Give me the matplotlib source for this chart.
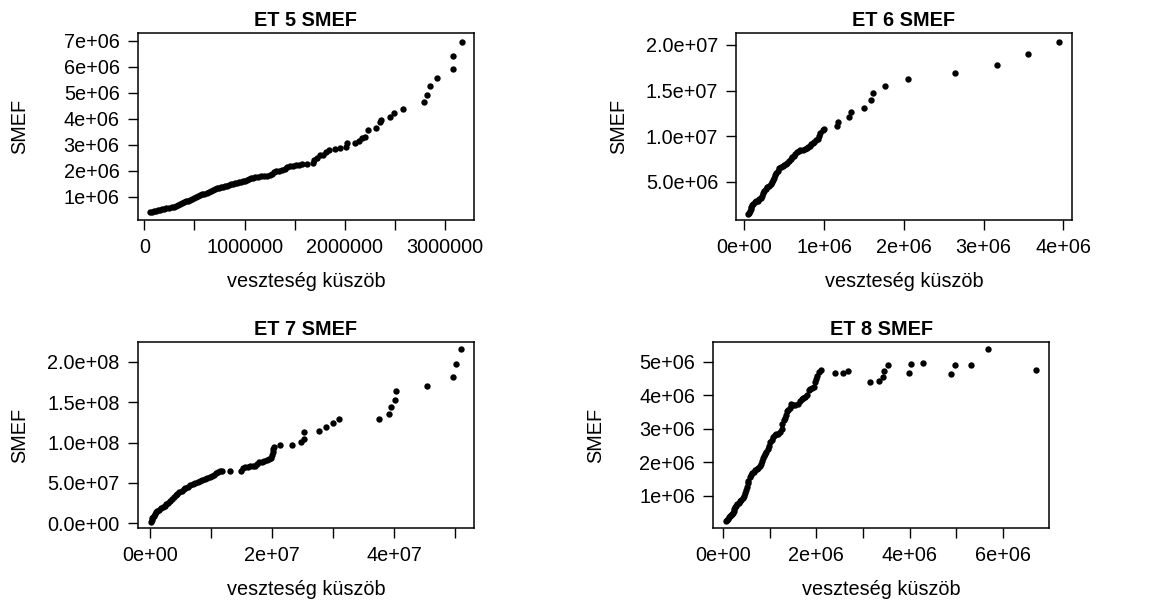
import numpy as np
import matplotlib
matplotlib.use("Agg")
import matplotlib.pyplot as plt

plt.rcParams['font.family'] = ['Liberation Sans', 'DejaVu Sans']

# ---- ET 5 (threshold and SMEF in millions) ----
et5_kuszob_m = [0.06, 0.08, 0.10, 0.12, 0.14, 0.16, 0.18, 0.20, 0.22, 0.25, 0.28, 0.30,
                0.32, 0.34, 0.36, 0.38, 0.40, 0.42, 0.44, 0.46, 0.48, 0.50, 0.52, 0.54,
                0.56, 0.58, 0.60, 0.62, 0.64, 0.66, 0.68, 0.70, 0.72, 0.74, 0.76, 0.78,
                0.80, 0.82, 0.84, 0.86, 0.88, 0.90, 0.92, 0.94, 0.96, 0.98, 1.00, 1.02,
                1.04, 1.06, 1.08, 1.10, 1.13, 1.16, 1.19, 1.22, 1.25, 1.27, 1.29, 1.31,
                1.34, 1.37, 1.40, 1.42, 1.45, 1.48, 1.51, 1.54, 1.57, 1.62, 1.68, 1.69,
                1.72, 1.75, 1.78, 1.81, 1.84, 1.90, 1.95, 2.01, 2.02, 2.10, 2.14, 2.17,
                2.20, 2.23, 2.31, 2.35, 2.36, 2.45, 2.49, 2.58, 2.79, 2.82, 2.85, 2.92,
                3.08, 3.08, 3.17]
et5_smef_m = [0.41, 0.43, 0.45, 0.47, 0.49, 0.51, 0.53, 0.55, 0.57, 0.58, 0.60, 0.62,
              0.65, 0.69, 0.73, 0.77, 0.80, 0.83, 0.86, 0.89, 0.93, 0.97, 1.01, 1.04,
              1.07, 1.10, 1.13, 1.16, 1.19, 1.22, 1.25, 1.29, 1.33, 1.35, 1.37, 1.39,
              1.42, 1.44, 1.46, 1.48, 1.50, 1.53, 1.55, 1.57, 1.59, 1.61, 1.63, 1.67,
              1.70, 1.72, 1.74, 1.75, 1.77, 1.79, 1.80, 1.81, 1.83, 1.87, 1.96, 1.98,
              2.00, 2.03, 2.09, 2.16, 2.18, 2.20, 2.22, 2.24, 2.26, 2.26, 2.29, 2.42,
              2.48, 2.61, 2.61, 2.74, 2.80, 2.84, 2.89, 2.93, 3.06, 3.06, 3.16, 3.25,
              3.32, 3.57, 3.64, 3.89, 3.96, 4.06, 4.24, 4.38, 4.66, 4.92, 5.26, 5.58,
              5.90, 6.41, 6.96]

# ---- ET 6 (millions) ----
et6_kuszob_m = [0.05, 0.06, 0.07, 0.08, 0.09, 0.10, 0.11, 0.13, 0.15, 0.17, 0.19, 0.21,
                0.22, 0.24, 0.25, 0.27, 0.29, 0.31, 0.33, 0.35, 0.36, 0.37, 0.38, 0.40,
                0.42, 0.44, 0.46, 0.48, 0.50, 0.52, 0.54, 0.56, 0.58, 0.60, 0.62, 0.64,
                0.66, 0.68, 0.70, 0.73, 0.76, 0.78, 0.80, 0.82, 0.84, 0.86, 0.88, 0.90,
                0.93, 0.94, 0.95, 0.99, 1.00, 1.16, 1.17, 1.31, 1.34, 1.50, 1.59, 1.61,
                1.76, 2.05, 2.64, 3.17, 3.56, 3.94]
et6_smef_m = [1.45, 1.60, 1.80, 2.00, 2.20, 2.40, 2.60, 2.75, 2.85, 2.92, 3.05, 3.25,
              3.45, 3.70, 3.95, 4.20, 4.40, 4.55, 4.70, 4.95, 5.20, 5.45, 5.70, 5.95,
              6.20, 6.45, 6.60, 6.75, 6.85, 6.95, 7.10, 7.30, 7.50, 7.65, 7.85, 8.05,
              8.25, 8.40, 8.45, 8.50, 8.55, 8.65, 8.80, 8.95, 9.10, 9.25, 9.40, 9.55,
              9.65, 10.05, 10.35, 10.70, 10.80, 11.10, 11.60, 12.05, 12.60, 13.10, 13.95, 14.70,
              15.50, 16.30, 16.95, 17.75, 18.98, 20.35]

# ---- ET 7 (units of 1e7) ----
et7_kuszob_e7 = [0.02, 0.03, 0.04, 0.05, 0.06, 0.08, 0.10, 0.12, 0.15, 0.18, 0.21, 0.24,
                 0.27, 0.30, 0.33, 0.36, 0.39, 0.42, 0.45, 0.48, 0.52, 0.55, 0.58, 0.62,
                 0.66, 0.70, 0.74, 0.78, 0.82, 0.86, 0.90, 0.94, 0.98, 1.02, 1.05, 1.08,
                 1.11, 1.14, 1.18, 1.31, 1.49, 1.52, 1.56, 1.60, 1.64, 1.68, 1.72, 1.76,
                 1.79, 1.83, 1.87, 1.91, 1.95, 1.99, 2.00, 2.01, 2.02, 2.03, 2.13, 2.32,
                 2.47, 2.52, 2.53, 2.77, 2.89, 3.00, 3.10, 3.76, 3.91, 3.95, 4.01, 4.03,
                 4.54, 4.96, 5.01, 5.10]
et7_smef_e7 = [0.15, 0.40, 0.60, 0.80, 0.95, 1.15, 1.35, 1.50, 1.65, 1.85, 2.00, 2.20,
               2.40, 2.55, 2.80, 3.00, 3.25, 3.45, 3.65, 3.85, 4.00, 4.20, 4.40, 4.55,
               4.75, 4.90, 4.95, 5.10, 5.25, 5.40, 5.50, 5.60, 5.75, 5.90, 6.05, 6.20,
               6.40, 6.50, 6.52, 6.48, 6.52, 6.80, 7.00, 7.02, 7.05, 7.10, 7.15, 7.35,
               7.55, 7.65, 7.70, 7.90, 7.98, 8.15, 8.50, 8.90, 9.20, 9.45, 9.65, 9.75,
               10.02, 10.40, 11.32, 11.49, 11.90, 12.40, 12.93, 12.93, 13.55, 14.46, 15.33, 16.36,
               16.98, 18.10, 19.75, 21.57]

# ---- ET 8 (millions) ----
et8_kuszob_m = [0.06, 0.08, 0.10, 0.12, 0.14, 0.16, 0.18, 0.20, 0.22, 0.24, 0.26, 0.28,
                0.30, 0.33, 0.36, 0.39, 0.42, 0.45, 0.47, 0.49, 0.50, 0.52, 0.54, 0.57,
                0.59, 0.62, 0.65, 0.69, 0.72, 0.75, 0.78, 0.81, 0.84, 0.86, 0.88, 0.90,
                0.92, 0.95, 0.98, 1.01, 1.04, 1.07, 1.10, 1.14, 1.18, 1.22, 1.25, 1.27,
                1.30, 1.33, 1.35, 1.37, 1.40, 1.43, 1.46, 1.50, 1.55, 1.60, 1.64, 1.68,
                1.72, 1.76, 1.80, 1.83, 1.87, 1.91, 1.95, 1.97, 1.99, 2.02, 2.05, 2.09,
                2.39, 2.56, 2.68, 3.16, 3.34, 3.42, 3.45, 3.54, 3.99, 4.04, 4.29, 4.90,
                4.98, 5.33, 5.68, 6.71]
et8_smef_m = [0.24, 0.28, 0.32, 0.36, 0.40, 0.44, 0.47, 0.50, 0.56, 0.62, 0.67, 0.71,
              0.75, 0.79, 0.84, 0.89, 0.93, 1.00, 1.08, 1.18, 1.28, 1.38, 1.46, 1.55,
              1.62, 1.67, 1.72, 1.76, 1.79, 1.82, 1.88, 1.95, 2.05, 2.13, 2.20, 2.26,
              2.32, 2.40, 2.50, 2.60, 2.67, 2.75, 2.82, 2.84, 2.86, 2.90, 3.00, 3.15,
              3.25, 3.32, 3.42, 3.52, 3.56, 3.62, 3.75, 3.72, 3.71, 3.75, 3.82, 3.88,
              3.92, 3.96, 4.00, 4.15, 4.20, 4.22, 4.25, 4.38, 4.48, 4.58, 4.68, 4.76,
              4.65, 4.65, 4.72, 4.39, 4.43, 4.53, 4.73, 4.90, 4.67, 4.93, 4.97, 4.63,
              4.90, 4.90, 5.37, 4.75]

# ---- tick definitions ----
et5_xticks = [0, 5e5, 1e6, 1.5e6, 2e6, 2.5e6, 3e6]
et5_xlabels = ["0", "", "1000000", "", "2000000", "", "3000000"]
et5_yticks = [1e6, 2e6, 3e6, 4e6, 5e6, 6e6, 7e6]
et5_ylabels = ["1e+06", "2e+06", "3e+06", "4e+06", "5e+06", "6e+06", "7e+06"]

et6_xticks = [0, 1e6, 2e6, 3e6, 4e6]
et6_xlabels = ["0e+00", "1e+06", "2e+06", "3e+06", "4e+06"]
et6_yticks = [5e6, 1e7, 1.5e7, 2e7]
et6_ylabels = ["5.0e+06", "1.0e+07", "1.5e+07", "2.0e+07"]

et7_xticks = [0, 1e7, 2e7, 3e7, 4e7, 5e7]
et7_xlabels = ["0e+00", "", "2e+07", "", "4e+07", ""]
et7_yticks = [0, 5e7, 1e8, 1.5e8, 2e8]
et7_ylabels = ["0.0e+00", "5.0e+07", "1.0e+08", "1.5e+08", "2.0e+08"]

et8_xticks = [0, 1e6, 2e6, 3e6, 4e6, 5e6, 6e6]
et8_xlabels = ["0e+00", "", "2e+06", "", "4e+06", "", "6e+06"]
et8_yticks = [1e6, 2e6, 3e6, 4e6, 5e6]
et8_ylabels = ["1e+06", "2e+06", "3e+06", "4e+06", "5e+06"]

W, H = 1149, 601
FS = 14.3
fig = plt.figure(figsize=(W / 100, H / 100), dpi=100)


def panel(box_px, x, y, title, xt, xl, yt, yl, xlim, ylim):
    x0, y0, x1, y1 = box_px
    ax = fig.add_axes([x0 / W, 1 - y1 / H, (x1 - x0) / W, (y1 - y0) / H])
    ax.scatter(x, y, s=21, c="black", linewidths=0, zorder=3)
    ax.set_xlim(*xlim)
    ax.set_ylim(*ylim)
    ax.set_xticks(xt)
    ax.set_xticklabels(xl)
    ax.set_yticks(yt)
    ax.set_yticklabels(yl)
    ax.tick_params(direction="out", length=7, width=1.0, labelsize=FS,
                   colors="black", pad=6.0)
    for s in ax.spines.values():
        s.set_linewidth(1.1)
        s.set_color("black")
    ax.set_title(title, fontsize=FS, fontweight="bold", pad=5.5)
    hpx = y1 - y0
    wpx = x1 - x0
    ax.text(0.5, -67 / hpx, "veszteség küszöb", transform=ax.transAxes,
            ha="center", va="baseline", fontsize=FS)
    ax.text(-112.5 / wpx, 0.5, "SMEF", transform=ax.transAxes, rotation=90,
            rotation_mode="anchor", ha="center", va="baseline", fontsize=FS)
    return ax


panel((137.7, 33.3, 474.0, 220.0), np.array(et5_kuszob_m) * 1e6, np.array(et5_smef_m) * 1e6,
      "ET 5 SMEF", et5_xticks, et5_xlabels, et5_yticks, et5_ylabels,
      (-0.0665e6, 3.289e6), (0.117e6, 7.28e6))
panel((736.3, 33.3, 1071.7, 220.0), np.array(et6_kuszob_m) * 1e6, np.array(et6_smef_m) * 1e6,
      "ET 6 SMEF", et6_xticks, et6_xlabels, et6_yticks, et6_ylabels,
      (-0.10e6, 4.104e6), (0.79e6, 21.28e6))
panel((137.7, 342.3, 474.0, 528.3), np.array(et7_kuszob_e7) * 1e7, np.array(et7_smef_e7) * 1e7,
      "ET 7 SMEF", et7_xticks, et7_xlabels, et7_yticks, et7_ylabels,
      (-0.202e7, 5.311e7), (-0.62e7, 22.44e7))
panel((713.3, 342.3, 1049.0, 528.3), np.array(et8_kuszob_m) * 1e6, np.array(et8_smef_m) * 1e6,
      "ET 8 SMEF", et8_xticks, et8_xlabels, et8_yticks, et8_ylabels,
      (-0.215e6, 6.995e6), (0.037e6, 5.576e6))

fig.savefig("out.png", dpi=100, facecolor="white")
